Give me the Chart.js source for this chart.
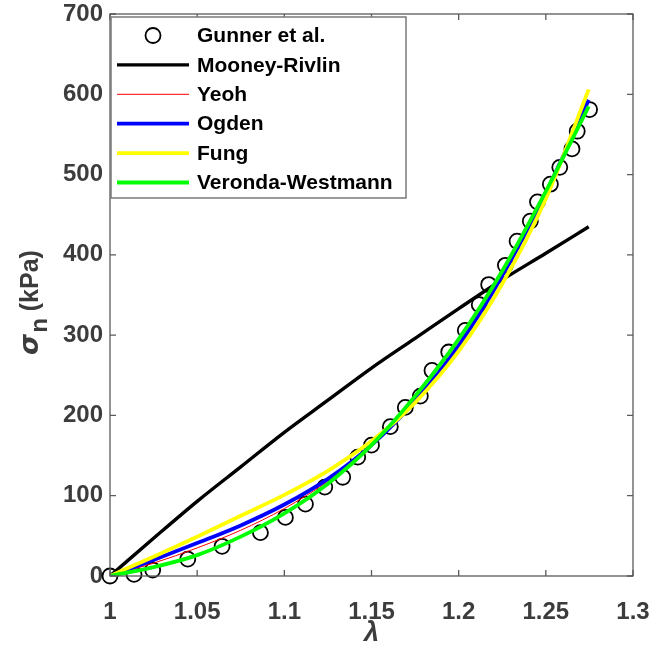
<!DOCTYPE html>
<html>
<head>
<meta charset="utf-8">
<script src="https://cdn.jsdelivr.net/npm/chart.js@4.4.0/dist/chart.umd.min.js"></script>
<style>
	html, body { margin: 0; padding: 0; background: #fff; }
	#wrap { width: 652px; height: 652px; }
</style>
</head>
<body>
<div id="wrap"><canvas id="myChart" width="652" height="652"></canvas></div>
<script>
// measured points (Gunner et al.)
const gunner_lambda = [1.0, 1.0138, 1.0245, 1.0446, 1.0643, 1.0863, 1.1006, 1.1121, 1.1232, 1.1335,
	1.1421, 1.150, 1.1608, 1.1694, 1.178, 1.1847, 1.1943, 1.2038, 1.2118, 1.2172,
	1.2268, 1.2335, 1.2411, 1.2452, 1.2526, 1.258, 1.265, 1.268, 1.2751];
const gunner_stress = [0, 2, 7.5, 21, 37, 54, 73, 89.5, 110.7, 123,
	148, 163, 186, 210, 224, 256, 279, 306, 338, 363,
	387, 417, 442, 466, 488, 509, 532, 554, 581];

// model fits
const fit_lambda = [1.0, 1.025, 1.05, 1.075, 1.1, 1.125, 1.15, 1.175, 1.2, 1.225, 1.25, 1.2746];
const mooney_rivlin = [0, 47, 93, 136, 179, 219, 259, 296, 333, 369, 402, 435];
const yeoh = [0, 16, 35, 57, 84, 118, 161, 217, 287, 374, 477, 591];
const ogden = [0, 20, 41, 63, 89, 121, 163, 218, 287, 374, 477, 593];
const fung = [0, 24, 49, 75, 101, 131, 168, 216, 280, 364, 470, 606];
const veronda_westmann = [0, 11, 26, 49, 78, 115, 163, 224, 295, 380, 479, 585];

const x_ticks = [1, 1.05, 1.1, 1.15, 1.2, 1.25, 1.3];
const y_ticks = [0, 100, 200, 300, 400, 500, 600, 700];

const ctx = document.getElementById('myChart').getContext('2d');
const axis_color = '#5a5a5a';
const tick_color = '#3c3c3c';

function toPoints(xs, ys) {
	return xs.map((x, i) => ({ x: x, y: ys[i] }));
}

function fitLine(label, values, color, width, order) {
	return {
		label: label,
		data: toPoints(fit_lambda, values),
		showLine: true,
		borderColor: color,
		backgroundColor: color,
		borderWidth: width,
		pointRadius: 0,
		cubicInterpolationMode: 'monotone',
		order: order,
	};
}

// frame, inward ticks, legend box and y label
const decorations = {
	id: 'decorations',
	afterDatasetsDraw(chart) {
		const c = chart.ctx;
		const area = chart.chartArea;
		const xs = chart.scales.x;
		const ys = chart.scales.y;
		c.save();
		c.strokeStyle = axis_color;
		c.lineWidth = 1.3;
		c.strokeRect(area.left, area.top, area.right - area.left, area.bottom - area.top);
		c.beginPath();
		x_ticks.forEach((v) => {
			const px = xs.getPixelForValue(v);
			c.moveTo(px, area.bottom);
			c.lineTo(px, area.bottom - 6);
			c.moveTo(px, area.top);
			c.lineTo(px, area.top + 6);
		});
		y_ticks.forEach((v) => {
			const py = ys.getPixelForValue(v);
			c.moveTo(area.left, py);
			c.lineTo(area.left + 6, py);
			c.moveTo(area.right, py);
			c.lineTo(area.right - 6, py);
		});
		c.stroke();

		// legend
		const box = { left: 111, top: 17, right: 406, bottom: 198 };
		c.fillStyle = '#fff';
		c.fillRect(box.left, box.top, box.right - box.left, box.bottom - box.top);
		c.strokeStyle = '#7a7a7a';
		c.lineWidth = 1.5;
		c.strokeRect(box.left, box.top, box.right - box.left, box.bottom - box.top);
		c.font = 'bold 21px "Liberation Sans", Arial, sans-serif';
		c.textBaseline = 'middle';
		c.textAlign = 'left';
		chart.data.datasets.forEach((ds, i) => {
			const y = 35.5 + i * 29.4;
			if (ds.showLine) {
				c.strokeStyle = ds.borderColor;
				c.lineWidth = ds.borderWidth;
				c.beginPath();
				c.moveTo(117, y);
				c.lineTo(189, y);
				c.stroke();
			} else {
				c.strokeStyle = '#000';
				c.lineWidth = ds.borderWidth;
				c.beginPath();
				c.arc(153, y, ds.pointRadius, 0, Math.PI * 2);
				c.stroke();
			}
			c.fillStyle = '#000';
			c.fillText(ds.label, 197, y + 1);
		});

		// y axis label with subscript
		c.translate(38, 303);
		c.rotate(-Math.PI / 2);
		c.fillStyle = tick_color;
		c.textBaseline = 'alphabetic';
		const f_sigma = 'italic bold 27px "DejaVu Sans", sans-serif';
		const f_sub = 'bold 24px "Liberation Sans", Arial, sans-serif';
		const f_main = 'bold 25px "Liberation Sans", Arial, sans-serif';
		c.font = f_sigma;
		const w1 = c.measureText('σ').width;
		c.font = f_sub;
		const w2 = c.measureText('n').width;
		c.font = f_main;
		const w3 = c.measureText(' (kPa)').width;
		let x0 = -(w1 + w2 + w3) / 2;
		c.font = f_sigma;
		c.fillText('σ', x0, 0);
		x0 += w1 + 1;
		c.font = f_sub;
		c.fillText('n', x0, 9);
		x0 += w2;
		c.font = f_main;
		c.fillText(' (kPa)', x0, 0);
		c.restore();
	},
};

Chart.defaults.font.family = '"Liberation Sans", Arial, sans-serif';

new Chart(ctx, {
	type: 'scatter',
	data: {
		datasets: [
			{
				label: 'Gunner et al.',
				data: toPoints(gunner_lambda, gunner_stress),
				showLine: false,
				pointStyle: 'circle',
				pointRadius: 7.5,
				borderColor: '#000',
				backgroundColor: 'rgba(0,0,0,0)',
				borderWidth: 1.8,
				clip: false,
				order: 5,
			},
			fitLine('Mooney-Rivlin', mooney_rivlin, '#000000', 3.4, 4),
			fitLine('Yeoh', yeoh, '#ff0000', 1, 3),
			fitLine('Ogden', ogden, '#0000ff', 3.8, 2),
			fitLine('Fung', fung, '#ffff00', 3.8, 1),
			fitLine('Veronda-Westmann', veronda_westmann, '#00ff00', 3.8, 0),
		],
	},
	options: {
		responsive: false,
		devicePixelRatio: 1,
		animation: false,
		layout: { padding: { top: 14, right: 19, left: 0, bottom: 0 } },
		plugins: {
			legend: { display: false },
			tooltip: { enabled: false },
		},
		scales: {
			x: {
				type: 'linear',
				min: 1,
				max: 1.3,
				afterBuildTicks: (scale) => {
					scale.ticks = x_ticks.map((v) => ({ value: v }));
				},
				afterFit: (scale) => {
					scale.height = 76;
					scale.paddingLeft = 0;
					scale.paddingRight = 0;
				},
				grid: { display: false, drawTicks: false },
				border: { display: false },
				ticks: {
					color: tick_color,
					font: { size: 24, weight: 'bold' },
					padding: 22,
					maxRotation: 0,
					callback: (v) => String(+v.toFixed(2)),
				},
				title: {
					display: true,
					text: 'λ',
					color: tick_color,
					font: { size: 27, weight: 'bold', style: 'italic' },
					padding: { top: 0, bottom: 2 },
				},
			},
			y: {
				type: 'linear',
				min: 0,
				max: 700,
				afterBuildTicks: (scale) => {
					scale.ticks = y_ticks.map((v) => ({ value: v }));
				},
				afterFit: (scale) => {
					scale.width = 110;
					scale.paddingTop = 0;
					scale.paddingBottom = 0;
				},
				grid: { display: false, drawTicks: false },
				border: { display: false },
				ticks: {
					color: tick_color,
					font: { size: 24, weight: 'bold' },
					padding: 7,
					callback: (v) => String(v),
				},
			},
		},
	},
	plugins: [decorations],
});
</script>
</body>
</html>
